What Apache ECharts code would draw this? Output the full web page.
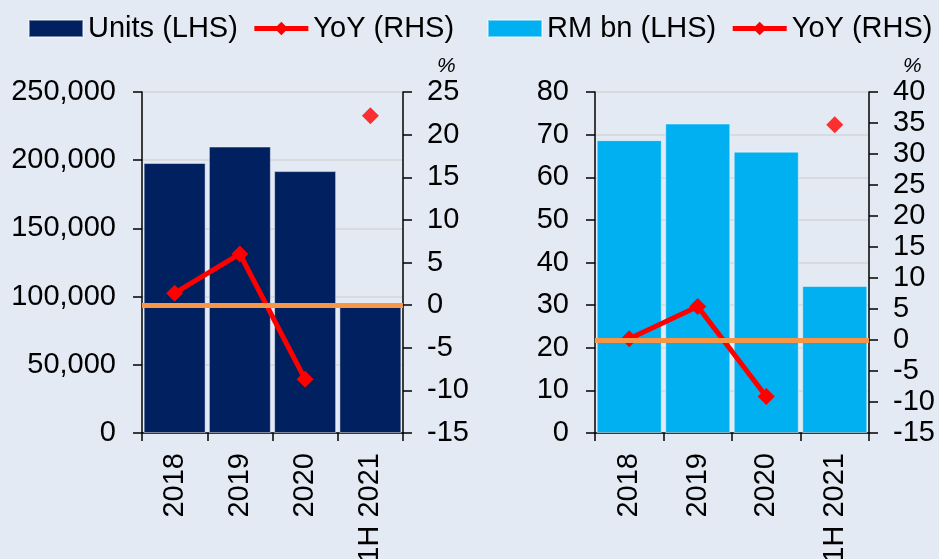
<!DOCTYPE html>
<html>
<head>
<meta charset="utf-8">
<script src="https://cdn.jsdelivr.net/npm/echarts@6.0.0/dist/echarts.min.js"></script>
<style>
  html, body { margin: 0; padding: 0; background: #e3eaf4; }
  #chart { width: 939px; height: 559px; }
</style>
</head>
<body>
<div id="chart"></div>
<script>
// Property sales: units and value, with year-on-year growth
const categories = ['2018', '2019', '2020', '1H 2021'];

const units = [198000, 210000, 192000, 94000];
const unitsYoY = [1.4, 6.0, -8.7, null];
const unitsYoY1H = [null, null, null, 22.2];

const valueRM = [68.7, 72.6, 66.0, 34.5];
const valueYoY = [0.2, 5.4, -9.1, null];
const valueYoY1H = [null, null, null, 34.7];

const leftTicks = { min: 0, max: 250000, interval: 50000 };
const leftPctTicks = { min: -15, max: 25, interval: 5 };
const rightTicks = { min: 0, max: 80, interval: 10 };
const rightPctTicks = { min: -15, max: 40, interval: 5 };

const FONT = '"Liberation Sans", Arial, sans-serif';
const BLACK = '#000000';
const NAVY = '#002060';
const CYAN = '#00b0f0';
const RED = '#ff0000';
const ORANGE = '#f79646';
const GRID_LINE = '#d3d6da';
const FS = 29;

function withCommas(v) {
  return String(v).replace(/\B(?=(\d{3})+(?!\d))/g, ',');
}

const axisLine = { show: true, lineStyle: { color: BLACK, width: 1.5 } };
const labelStyle = { color: BLACK, fontSize: FS, fontFamily: FONT };

function catAxis(gridIndex) {
  return {
    type: 'category',
    gridIndex: gridIndex,
    data: categories,
    boundaryGap: true,
    axisLine: Object.assign({ onZero: false }, axisLine),
    axisTick: { show: true, length: 8, inside: false, lineStyle: { color: BLACK, width: 1.5 } },
    axisLabel: Object.assign({ rotate: 90, margin: 20, interval: 0 }, labelStyle),
    splitLine: { show: false }
  };
}

function valAxis(gridIndex, ticks, position, opts) {
  return Object.assign({
    type: 'value',
    gridIndex: gridIndex,
    position: position,
    min: ticks.min,
    max: ticks.max,
    interval: ticks.interval,
    axisLine: axisLine,
    axisTick: { show: true, length: 9, inside: false, lineStyle: { color: BLACK, width: 1.5 } },
    splitLine: { show: false }
  }, opts);
}

const pctName = {
  name: '%',
  nameLocation: 'end',
  nameGap: 15,
  nameTextStyle: { color: BLACK, fontSize: 21, fontStyle: 'italic', fontFamily: FONT, align: 'left', padding: [0, 0, 0, 34] }
};

function yoyLine(name, xi, yi, data) {
  return {
    name: name,
    type: 'line',
    xAxisIndex: xi,
    yAxisIndex: yi,
    data: data,
    z: 3,
    symbol: 'diamond',
    symbolSize: 17,
    showAllSymbol: true,
    connectNulls: false,
    itemStyle: { color: RED },
    lineStyle: { color: RED, width: 5 }
  };
}

function yoyPoint(xi, yi, data) {
  return {
    name: 'YoY 1H',
    type: 'scatter',
    xAxisIndex: xi,
    yAxisIndex: yi,
    data: data,
    z: 4,
    symbol: 'diamond',
    symbolSize: 17,
    itemStyle: { color: RED },
    markLine: {
      silent: true,
      symbol: 'none',
      label: { show: false },
      lineStyle: { color: ORANGE, width: 5, type: 'solid' },
      data: [{ yAxis: 0 }]
    }
  };
}

function bars(name, xi, yi, data, color) {
  return {
    name: name,
    type: 'bar',
    xAxisIndex: xi,
    yAxisIndex: yi,
    data: data,
    z: 2,
    barCategoryGap: '5%',
    itemStyle: { color: color, borderColor: 'rgba(255,255,255,0.45)', borderWidth: 1 }
  };
}

const legendBase = {
  orient: 'horizontal',
  top: 14,
  padding: 0,
  width: 470,
  itemWidth: 54,
  itemHeight: 17,
  itemGap: 14,
  textStyle: { color: BLACK, fontSize: FS, fontFamily: FONT }
};

const yoyLegendItem = {
  name: 'YoY (RHS)',
  lineStyle: { color: RED, width: 5 },
  itemStyle: { color: RED }
};

const option = {
  backgroundColor: '#e3eaf4',
  animation: false,
  legend: [
    Object.assign({ left: 28, data: [{ name: 'Units (LHS)', icon: 'rect' }, yoyLegendItem] }, legendBase),
    Object.assign({ left: 487, data: [{ name: 'RM bn (LHS)', icon: 'rect' }, yoyLegendItem] }, legendBase)
  ],
  grid: [
    { left: 142, right: 536, top: 92, bottom: 126, outerBoundsMode: 'none' },
    { left: 595, right: 70, top: 92, bottom: 126, outerBoundsMode: 'none' }
  ],
  xAxis: [catAxis(0), catAxis(1)],
  yAxis: [
    valAxis(0, leftTicks, 'left', {
      axisLabel: Object.assign({ margin: 26, formatter: withCommas }, labelStyle),
      splitLine: { show: true, lineStyle: { color: GRID_LINE, width: 1.5 } }
    }),
    valAxis(0, leftPctTicks, 'right', Object.assign({
      axisLabel: Object.assign({ margin: 24 }, labelStyle)
    }, pctName)),
    valAxis(1, rightTicks, 'left', {
      axisLabel: Object.assign({ margin: 26 }, labelStyle),
      splitLine: { show: true, lineStyle: { color: GRID_LINE, width: 1.5 } }
    }),
    valAxis(1, rightPctTicks, 'right', Object.assign({
      axisLabel: Object.assign({ margin: 24 }, labelStyle)
    }, pctName))
  ],
  series: [
    bars('Units (LHS)', 0, 0, units, NAVY),
    yoyLine('YoY (RHS)', 0, 1, unitsYoY),
    yoyPoint(0, 1, unitsYoY1H),
    bars('RM bn (LHS)', 1, 2, valueRM, CYAN),
    yoyLine('YoY (RHS)', 1, 3, valueYoY),
    yoyPoint(1, 3, valueYoY1H)
  ]
};

const chart = echarts.init(document.getElementById('chart'), null, { renderer: 'canvas' });
chart.setOption(option);
</script>
</body>
</html>
